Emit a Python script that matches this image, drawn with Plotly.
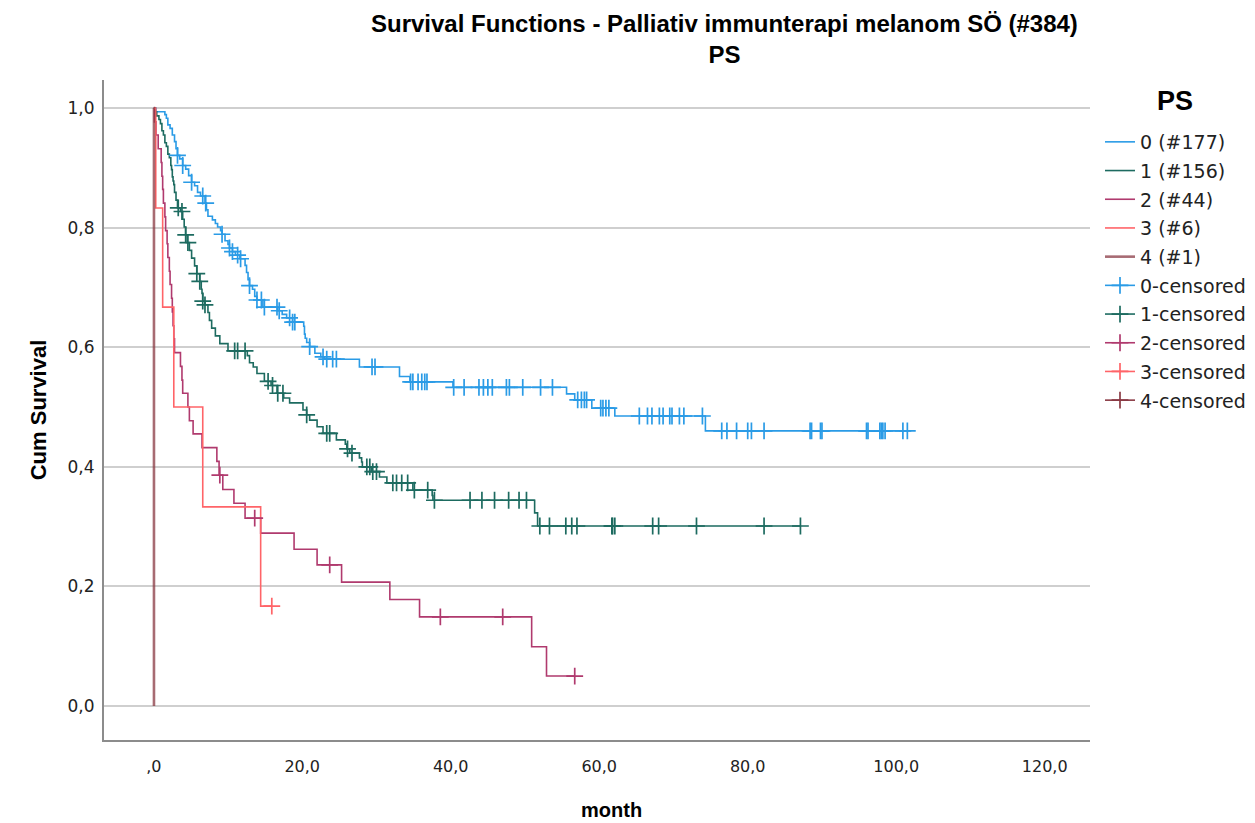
import plotly.graph_objects as go

# ---- Kaplan-Meier step data per PS group: event times (months) and survival after each event ----
ps0_time = [0.3, 1.5, 1.7, 1.9, 2.2, 2.5, 2.8, 3.0, 3.2, 3.5, 3.9, 4.3, 4.7, 5.1, 5.5, 5.9, 6.3,
            6.9, 7.1, 7.3, 7.9, 8.3, 8.6, 9.0, 9.2, 9.6, 10.0, 10.2, 10.6, 11.0, 11.6, 12.3, 12.5,
            12.7, 12.9, 13.3, 13.6, 13.9, 14.7, 16.7, 17.3, 17.9, 18.7, 20.2, 20.3, 20.4, 20.6,
            21.0, 21.7, 22.5, 23.0, 27.7, 33.1, 34.5, 40.3, 55.6, 56.7, 59.0, 62.1, 74.3]
ps0_surv = [0.994, 0.989, 0.983, 0.972, 0.966, 0.955, 0.944, 0.932, 0.921, 0.915, 0.904, 0.898,
            0.887, 0.876, 0.870, 0.859, 0.853, 0.841, 0.830, 0.819, 0.813, 0.807, 0.801, 0.795,
            0.789, 0.778, 0.772, 0.766, 0.760, 0.754, 0.748, 0.737, 0.725, 0.713, 0.703, 0.697,
            0.685, 0.679, 0.667, 0.661, 0.655, 0.649, 0.642, 0.635, 0.622, 0.615, 0.608, 0.601,
            0.590, 0.584, 0.580, 0.567, 0.551, 0.542, 0.533, 0.522, 0.512, 0.498, 0.485, 0.460]
ps0_cens = [3.2, 3.9, 5.1, 6.6, 7.0, 9.2, 10.2, 10.6, 11.3, 11.7, 12.9, 13.9, 14.5, 14.9, 16.6,
            16.9, 18.3, 18.7, 19.0, 21.0, 22.8, 23.3, 24.1, 24.6, 29.4, 29.8, 34.6, 34.9, 35.6,
            36.1, 36.5, 36.8, 40.4, 41.8, 43.8, 44.4, 45.0, 45.6, 47.5, 47.9, 49.7, 52.1, 53.7,
            57.1, 57.6, 58.0, 58.3, 60.2, 60.5, 60.9, 61.3, 65.4, 66.5, 67.1, 68.1, 68.6, 69.5,
            69.8, 70.8, 71.4, 73.9, 76.5, 77.2, 78.5, 80.0, 80.5, 82.2, 88.4, 88.6, 89.8, 90.0,
            96.0, 96.2, 97.8, 98.0, 98.2, 98.5, 100.9, 101.5]

ps1_time = [0.2, 0.4, 0.7, 0.9, 1.1, 1.3, 1.5, 1.7, 1.9, 2.1, 2.3, 2.4, 2.5, 2.6, 2.7, 2.8, 3.0,
            3.2, 3.6, 3.9, 4.1, 4.3, 4.5, 4.8, 5.1, 5.5, 5.8, 6.2, 6.4, 6.5, 6.6, 6.9, 7.3, 7.5,
            7.8, 8.3, 8.9, 10.0, 12.6, 12.9, 13.4, 13.9, 14.9, 15.8, 16.6, 17.5, 18.3, 20.1, 20.6,
            21.0, 22.0, 22.8, 24.6, 25.8, 26.0, 26.4, 27.7, 28.0, 28.1, 29.3, 30.4, 31.4, 34.9,
            37.5, 37.6, 51.3, 51.7]
ps1_surv = [0.994, 0.987, 0.981, 0.974, 0.962, 0.955, 0.942, 0.936, 0.923, 0.917, 0.904, 0.897,
            0.885, 0.878, 0.872, 0.859, 0.846, 0.833, 0.827, 0.814, 0.801, 0.788, 0.775, 0.762,
            0.749, 0.736, 0.723, 0.710, 0.697, 0.690, 0.677, 0.671, 0.658, 0.645, 0.632, 0.619,
            0.606, 0.594, 0.586, 0.574, 0.567, 0.556, 0.543, 0.536, 0.523, 0.515, 0.507, 0.495,
            0.487, 0.478, 0.467, 0.456, 0.445, 0.438, 0.430, 0.423, 0.415, 0.408, 0.400, 0.392,
            0.383, 0.373, 0.361, 0.352, 0.344, 0.323, 0.301]
ps1_cens = [3.3, 3.8, 4.3, 4.6, 5.8, 6.2, 6.6, 6.9, 10.9, 11.3, 12.3, 15.4, 16.0, 16.7, 17.4,
            20.6, 23.3, 23.7, 26.1, 26.7, 28.7, 29.1, 29.5, 30.0, 32.2, 32.7, 33.4, 34.2, 35.1,
            36.9, 37.8, 42.6, 44.2, 45.9, 47.8, 49.2, 50.2, 52.0, 53.3, 55.5, 56.3, 57.0, 61.7,
            61.8, 62.1, 67.2, 68.0, 73.1, 82.2, 87.1]

ps2_time = [0.1, 0.3, 0.6, 1.0, 1.1, 1.2, 1.3, 1.5, 1.6, 1.8, 1.9, 2.1, 2.2, 2.4, 2.5, 2.6, 2.7,
            2.8, 3.6, 3.8, 3.9, 4.6, 4.8, 5.3, 6.5, 8.5, 8.8, 9.3, 10.8, 12.3, 14.4, 18.9, 22.0,
            25.3, 31.8, 35.8, 50.9, 52.9]
ps2_surv = [0.977, 0.955, 0.932, 0.909, 0.886, 0.864, 0.841, 0.818, 0.795, 0.773, 0.750, 0.727,
            0.705, 0.682, 0.659, 0.636, 0.614, 0.591, 0.568, 0.545, 0.523, 0.500, 0.477, 0.455,
            0.432, 0.409, 0.386, 0.362, 0.339, 0.314, 0.289, 0.262, 0.236, 0.207, 0.178, 0.149,
            0.099, 0.050]
ps2_cens = [8.9, 13.6, 23.7, 38.6, 47.0, 56.7]

ps3_time = [0.27, 1.2, 2.7, 6.6, 14.4]
ps3_surv = [0.833, 0.667, 0.500, 0.333, 0.167]
ps3_cens = [15.9]

ps4_time = [0.03]
ps4_surv = [0.0]
ps4_cens = []

group_labels = ["0 (#177)", "1 (#156)", "2 (#44)", "3 (#6)", "4 (#1)"]
censor_labels = ["0-censored", "1-censored", "2-censored", "3-censored", "4-censored"]
group_colors = ["#2a9be6", "#1d6b60", "#b03a6e", "#ff6468", "#8a3a44"]
line_widths = [1.6, 1.6, 1.6, 1.6, 2.6]
line_opacity = [1.0, 1.0, 1.0, 1.0, 0.75]

x_tickvals = [0, 20, 40, 60, 80, 100, 120]
x_ticktext = [",0", "20,0", "40,0", "60,0", "80,0", "100,0", "120,0"]
y_tickvals = [0.0, 0.2, 0.4, 0.6, 0.8, 1.0]
y_ticktext = ["0,0", "0,2", "0,4", "0,6", "0,8", "1,0"]

chart_title = "Survival Functions - Palliativ immunterapi melanom SÖ (#384)"
chart_subtitle = "PS"

groups = [
    (ps0_time, ps0_surv, ps0_cens),
    (ps1_time, ps1_surv, ps1_cens),
    (ps2_time, ps2_surv, ps2_cens),
    (ps3_time, ps3_surv, ps3_cens),
    (ps4_time, ps4_surv, ps4_cens),
]


def level_at(times, survs, t):
    """Survival level of the step curve at time t."""
    s = 1.0
    for ti, si in zip(times, survs):
        if ti <= t:
            s = si
        else:
            break
    return s


fig = go.Figure()

# step curves
for i, (times, survs, cens) in enumerate(groups):
    end_t = max([times[-1]] + cens)
    xs = [0.0] + times + [end_t]
    ys = [1.0] + survs + [survs[-1]]
    fig.add_trace(go.Scatter(
        x=xs, y=ys, mode="lines", line_shape="hv",
        line=dict(color=group_colors[i], width=line_widths[i]),
        opacity=line_opacity[i],
        name=group_labels[i], legendgroup=f"g{i}",
        hoverinfo="skip",
    ))

# censoring marks (isolated points, so no connecting segments are drawn)
for i, (times, survs, cens) in enumerate(groups):
    cx, cy = [], []
    for t in cens:
        cx += [t, None]
        cy += [level_at(times, survs, t), None]
    if not cx:
        cx, cy = [None], [None]
    fig.add_trace(go.Scatter(
        x=cx, y=cy, mode="lines+markers", connectgaps=False,
        line=dict(color=group_colors[i], width=1.6),
        marker=dict(symbol="cross-thin", size=12,
                    line=dict(color=group_colors[i], width=1.7)),
        name=censor_labels[i], legendgroup=f"c{i}",
        hoverinfo="skip",
    ))

BOLD_FONT = "Liberation Sans, Arial, sans-serif"
TEXT_FONT = "DejaVu Sans, Arial, sans-serif"

PLOT_L, PLOT_T, PLOT_W, PLOT_H = 104, 80, 986, 660


def px_to_paper(px, py):
    return (px - PLOT_L) / PLOT_W, (PLOT_T + PLOT_H - py) / PLOT_H


annotations = []
for text, (px, py), size in [
    (chart_title + "<br>" + chart_subtitle, (724, 39), 24),
    ("month", (611, 810), 20),
    ("PS", (1175, 101), 27),
]:
    ax, ay = px_to_paper(px, py)
    annotations.append(dict(
        text=text, xref="paper", yref="paper", x=ax, y=ay,
        xanchor="center", yanchor="middle", showarrow=False,
        font=dict(family=BOLD_FONT, size=size, color="black", weight="bold"),
    ))

leg_x, leg_y = px_to_paper(1100, 123)

fig.update_layout(
    width=1255, height=823,
    margin=dict(l=PLOT_L, r=1255 - PLOT_L - PLOT_W, t=PLOT_T, b=823 - PLOT_T - PLOT_H,
                autoexpand=False),
    paper_bgcolor="white", plot_bgcolor="white",
    xaxis=dict(
        range=[-6.7, 126.1], tickvals=x_tickvals, ticktext=x_ticktext,
        showgrid=False, zeroline=False, showline=True, linecolor="#8c8c8c", linewidth=2,
        ticks="", tickfont=dict(family=TEXT_FONT, size=16, color="#222"),
        ticklabelstandoff=11,
    ),
    yaxis=dict(
        range=[-0.057, 1.047], tickvals=y_tickvals, ticktext=y_ticktext,
        showgrid=True, gridcolor="#cfcfcf", gridwidth=2, zeroline=False,
        showline=True, linecolor="#8c8c8c", linewidth=2,
        ticks="", tickfont=dict(family=TEXT_FONT, size=17, color="#222"),
        ticklabelstandoff=4,
        title=dict(text="Cum Survival", standoff=15,
                   font=dict(family=BOLD_FONT, size=22, color="black", weight="bold")),
    ),
    showlegend=True,
    legend=dict(
        x=leg_x, xanchor="left", y=leg_y, yanchor="top",
        font=dict(family=TEXT_FONT, size=19, color="#222"),
        tracegroupgap=1, bgcolor="rgba(0,0,0,0)",
    ),
    annotations=annotations,
)

fig.write_html("out.html")
